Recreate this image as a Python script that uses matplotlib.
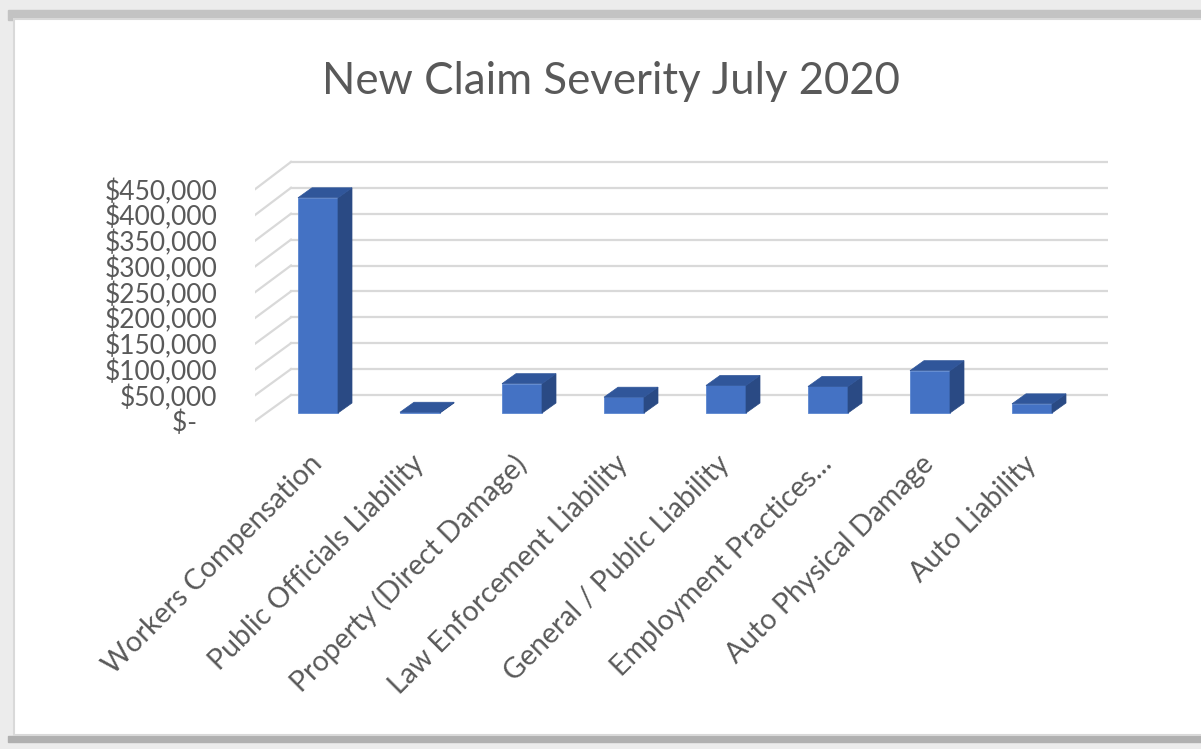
import numpy as np
import matplotlib
matplotlib.use("Agg")
import matplotlib.pyplot as plt
from matplotlib.patches import Polygon, Rectangle

# datos
categorias = ['Workers Compensation', 'Public Officials Liability', 'Property (Direct Damage)',
              'Law Enforcement Liability', 'General / Public Liability', 'Employment Practices...',
              'Auto Physical Damage', 'Auto Liability']
severidad = [422000, 1500, 57500, 31000, 54000, 52000, 83000, 18000]
ticks_y = [0, 50000, 100000, 150000, 200000, 250000, 300000, 350000, 400000, 450000]
etiquetas_y = ['$-   ', '$50,000', '$100,000', '$150,000', '$200,000', '$250,000',
               '$300,000', '$350,000', '$400,000', '$450,000']
titulo = 'New Claim Severity July 2020'

gris = '#595959'
frente = '#4472C4'
arriba = '#30569A'
lado = '#2A4A84'

W, H = 1201, 749
fig = plt.figure(figsize=(W / 100, H / 100), dpi=100)
plt.rcParams['font.family'] = ['Lato', 'DejaVu Sans']

# marco con sombra (estilo captura de Excel)
bg = fig.add_axes([0, 0, 1, 1])
bg.set_xlim(0, W)
bg.set_ylim(H, 0)
bg.axis('off')
bg.add_patch(Rectangle((0, 0), W, H, color='#ececec'))
bg.add_patch(Rectangle((8, 10), W, 10, color='#c3c3c3'))
bg.add_patch(Rectangle((8, 736), W, 6, color='#b0b0b0'))
bg.add_patch(Rectangle((14, 19), W, 716, facecolor='white', edgecolor='#d9d9d9', lw=1.5))

# ejes en coordenadas de datos: x = categoria, y = valor en el plano de las barras
px_x = 102.0     # pixeles por categoria
px_y = 0.51e-3   # pixeles por dolar
x0_pix, x1_pix = 255, 1108
y0_pix, y1_pix = 425, 150
base_pix = 413
ax = fig.add_axes([x0_pix / W, 1 - y0_pix / H, (x1_pix - x0_pix) / W, (y0_pix - y1_pix) / H])
ax.set_xlim((x0_pix - 318) / px_x, (x1_pix - 318) / px_x)
ax.set_ylim(-(y0_pix - base_pix) / px_y, (base_pix - y1_pix) / px_y)
for s in ax.spines.values():
    s.set_visible(False)
ax.set_facecolor('none')

# pared del fondo y pared lateral
esc_fondo = 0.518 / 0.51
off_fondo = 18 / 0.51 * 1000
esc_frente = 0.515 / 0.51
off_frente = -8 / 0.51 * 1000
x_fondo = (291 - 318) / px_x
x_frente = (255 - 318) / px_x
for v in ticks_y:
    yb = off_fondo + v * esc_fondo
    yf = off_frente + v * esc_frente
    ax.plot([x_fondo, ax.get_xlim()[1]], [yb, yb], color='#d9d9d9', lw=1.6, zorder=1)
    ax.plot([x_frente, x_fondo], [yf, yb], color='#d9d9d9', lw=1.6, zorder=1)

# barras pseudo 3D
ancho = 40 / px_x
dx = 14 / px_x
dy = 10 / 0.51 * 1000
xs = np.arange(len(categorias))
ax.bar(xs, severidad, width=ancho, color=frente, zorder=3, edgecolor='#5b86d0', linewidth=0.6)
for x, v in zip(xs, severidad):
    l, r = x - ancho / 2, x + ancho / 2
    ax.add_patch(Polygon([(r, 0), (r + dx, dy), (r + dx, v + dy), (r, v)], closed=True,
                         facecolor=lado, edgecolor=lado, lw=0.5, zorder=3))
    ax.add_patch(Polygon([(l, v), (l + dx, v + dy), (r + dx, v + dy), (r, v)], closed=True,
                         facecolor=arriba, edgecolor=arriba, lw=0.5, zorder=3))

# eje y
pos_y = [off_frente + v * esc_frente for v in ticks_y]
ax.set_yticks(pos_y, etiquetas_y)
ax.tick_params(axis='y', length=0, pad=27, labelsize=19, labelcolor=gris)
ax.set_xticks([])

# etiquetas de categorias
for x, c in zip(xs, categorias):
    ax.annotate(c, xy=(x, 0), xycoords='data', xytext=(0, -47), textcoords='offset pixels',
                rotation=45, ha='right', va='center', rotation_mode='anchor',
                fontsize=20.5, color=gris)

fig.text(611 / W, 1 - 81 / H, titulo, ha='center', va='center', fontsize=31.5, color=gris)

fig.savefig('out.png', dpi=100)
